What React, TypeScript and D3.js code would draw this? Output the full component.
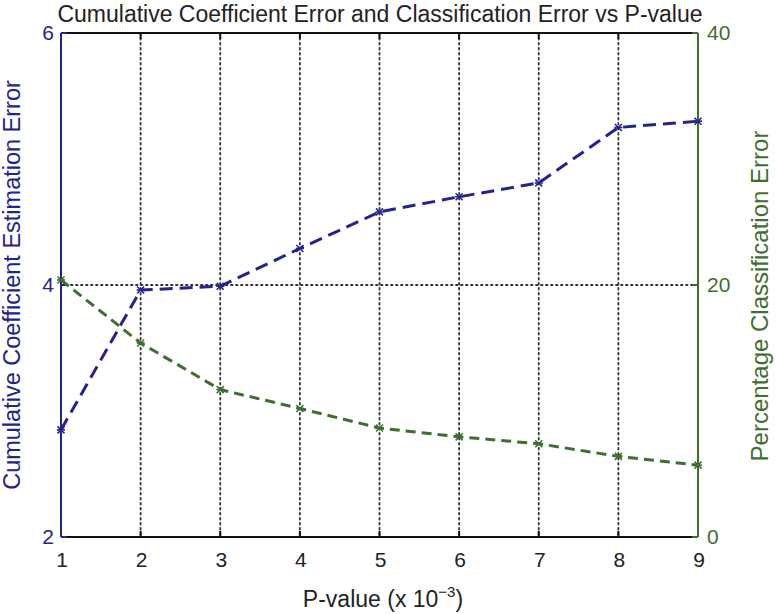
import React from "react";
import * as d3 from "d3";

const pValues = [1, 2, 3, 4, 5, 6, 7, 8, 9];
const coefError = [2.85, 3.96, 3.99, 4.29, 4.58, 4.7, 4.81, 5.25, 5.3];
const classError = [20.4, 15.4, 11.7, 10.2, 8.65, 7.95, 7.4, 6.4, 5.7];
const xTicks = [1, 2, 3, 4, 5, 6, 7, 8, 9];
const leftTicks = [2, 4, 6];
const rightTicks = [0, 20, 40];

const W = 777, H = 614;
const L = 61, R = 698, T = 33, B = 537;
const BLUE = "#23238f";
const GREEN = "#3f6e2e";
const FONT = "'Liberation Sans', Arial, Helvetica, sans-serif";

export default function App() {
  const x = d3.scaleLinear().domain([1, 9]).range([L, R]);
  const yL = d3.scaleLinear().domain([2, 6]).range([B, T]);
  const yR = d3.scaleLinear().domain([0, 40]).range([B, T]);
  const lineL = d3.line<number>().x((_, i) => x(pValues[i])).y((d) => yL(d));
  const lineR = d3.line<number>().x((_, i) => x(pValues[i])).y((d) => yR(d));
  const mk = (cx: number, cy: number, c: string, k: string) => (
    <g key={k} stroke={c} strokeWidth={1.6}>
      <line x1={cx - 3.5} y1={cy - 3.5} x2={cx + 3.5} y2={cy + 3.5} />
      <line x1={cx - 3.5} y1={cy + 3.5} x2={cx + 3.5} y2={cy - 3.5} />
      <line x1={cx - 4} y1={cy} x2={cx + 4} y2={cy} />
    </g>
  );
  return (
    <svg width={W} height={H} style={{ position: "absolute", left: 0, top: 0 }} fontFamily={FONT}>
      <rect width={W} height={H} fill="#fff" />
      {/* grid */}
      {xTicks.slice(1, -1).map((t) => (
        <line key={"g" + t} x1={x(t)} x2={x(t)} y1={T} y2={B} stroke="#333" strokeWidth={1.8} strokeDasharray="1.5 3.5" strokeLinecap="round" />
      ))}
      <line x1={L} x2={R} y1={yL(4)} y2={yL(4)} stroke="#333" strokeWidth={1.8} strokeDasharray="1.5 3.5" strokeLinecap="round" />
      {/* top/bottom axes */}
      <line x1={L} x2={R} y1={T} y2={T} stroke="#111" strokeWidth={2} />
      <line x1={L} x2={R} y1={B} y2={B} stroke="#111" strokeWidth={2} />
      {xTicks.map((t) => (
        <g key={"t" + t}>
          <line x1={x(t)} x2={x(t)} y1={B} y2={B - 6} stroke="#111" strokeWidth={2} />
          <line x1={x(t)} x2={x(t)} y1={T} y2={T + 6} stroke="#111" strokeWidth={2} />
          <text x={x(t) + 1} y={B + 30} textAnchor="middle" fontSize={21} fill="#222">{t}</text>
        </g>
      ))}
      {/* left axis */}
      <line x1={L} x2={L} y1={T} y2={B} stroke={BLUE} strokeWidth={2} />
      {leftTicks.map((t) => (
        <g key={"l" + t}>
          <line x1={L} x2={L + 6} y1={yL(t)} y2={yL(t)} stroke={BLUE} strokeWidth={2} />
          <text x={L - 7} y={yL(t) + 7} textAnchor="end" fontSize={21} fill={BLUE}>{t}</text>
        </g>
      ))}
      {/* right axis */}
      <line x1={R} x2={R} y1={T} y2={B} stroke={GREEN} strokeWidth={2} />
      {rightTicks.map((t) => (
        <g key={"r" + t}>
          <line x1={R} x2={R - 6} y1={yR(t)} y2={yR(t)} stroke={GREEN} strokeWidth={2} />
          <text x={R + 9} y={yR(t) + 7} textAnchor="start" fontSize={21} fill={GREEN}>{t}</text>
        </g>
      ))}
      {/* series */}
      <path d={lineL(coefError) || ""} fill="none" stroke={BLUE} strokeWidth={3} strokeDasharray="13 7" />
      <path d={lineR(classError) || ""} fill="none" stroke={GREEN} strokeWidth={3} strokeDasharray="10 6" />
      {coefError.map((v, i) => mk(x(pValues[i]), yL(v), BLUE, "mb" + i))}
      {classError.map((v, i) => mk(x(pValues[i]), yR(v), GREEN, "mg" + i))}
      {/* labels */}
      <text x={380} y={22} textAnchor="middle" fontSize={23} fill="#222">Cumulative Coefficient Error and Classification Error vs P-value</text>
      <text transform={`translate(20,285) rotate(-90)`} textAnchor="middle" fontSize={23.5} fill={BLUE}>Cumulative Coefficient Estimation Error</text>
      <text transform={`translate(768,296) rotate(-90)`} textAnchor="middle" fontSize={24} fill={GREEN}>Percentage Classification Error</text>
      <text x={383} y={607} textAnchor="middle" fontSize={23} fill="#222">
        P-value (x 10<tspan dy={-10} fontSize={15}>−3</tspan><tspan dy={10}>)</tspan>
      </text>
    </svg>
  );
}
